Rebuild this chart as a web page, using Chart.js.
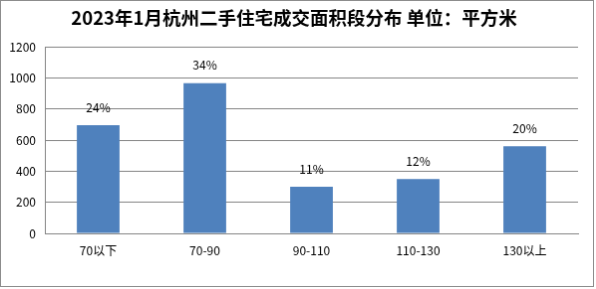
<!DOCTYPE html>
<html><head><meta charset="utf-8">
<script src="https://cdn.jsdelivr.net/npm/chart.js@4/dist/chart.umd.min.js"></script>
<style>
html,body{margin:0;padding:0;background:#fff;}
#c{display:block;border:1px solid #8c8c8c;}
</style></head>
<body>
<canvas id="c" width="594" height="287"></canvas>
<script>
const categories = ["70以下", "70-90", "90-110", "110-130", "130以上"];
const values = [695, 965, 300, 350, 560];
const shareLabels = ["24%", "34%", "11%", "12%", "20%"];
const yTicks = [0, 200, 400, 600, 800, 1000, 1200];
const titleText = "2023年1月杭州二手住宅成交面积段分布 单位：平方米";

const FONT = "'Noto Sans CJK SC', 'Liberation Sans', sans-serif";

const labelPlugin = {
  id: 'barLabels',
  afterDatasetsDraw(chart) {
    const ctx = chart.ctx;
    const meta = chart.getDatasetMeta(0);
    ctx.save();
    ctx.font = "12px " + FONT;
    ctx.fillStyle = "#000";
    ctx.textAlign = "center";
    ctx.textBaseline = "middle";
    meta.data.forEach((bar, i) => {
      ctx.fillText(shareLabels[i], bar.x, bar.y - 18);
    });
    ctx.restore();
  }
};
const titlePlugin = {
  id: 'topTitle',
  afterDraw(chart) {
    const ctx = chart.ctx;
    ctx.save();
    ctx.font = "bold 18.5px " + FONT;
    ctx.fillStyle = "#000";
    ctx.textAlign = "center";
    ctx.textBaseline = "middle";
    ctx.fillText(titleText, 294, 17);
    ctx.restore();
  }
};

new Chart(document.getElementById('c'), {
  type: 'bar',
  data: {
    labels: categories,
    datasets: [{
      data: values,
      backgroundColor: '#4f81bd',
      barPercentage: 0.5,
      categoryPercentage: 0.8
    }]
  },
  options: {
    responsive: false,
    animation: false,
    layout: { padding: { left: 0, right: 15, top: 46, bottom: 0 } },
    plugins: { legend: { display: false }, tooltip: { enabled: false }, title: { display: false } },
    scales: {
      x: {
        grid: { display: false, drawTicks: false },
        border: { display: true, color: '#868686' },
        ticks: { color: '#000', font: { family: FONT, size: 12 }, padding: 10 },
        afterFit(s) { s.height = 53; }
      },
      y: {
        min: 0, max: 1200,
        afterBuildTicks(s) { s.ticks = yTicks.map(v => ({ value: v })); },
        grid: { color: '#868686', drawTicks: false },
        border: { display: true, color: '#868686' },
        ticks: { color: '#000', font: { family: FONT, size: 12 }, padding: 9,
                 callback: (v) => String(v) },
        afterFit(s) { s.width = 44; }
      }
    }
  },
  plugins: [labelPlugin, titlePlugin]
});
</script>
</body></html>
